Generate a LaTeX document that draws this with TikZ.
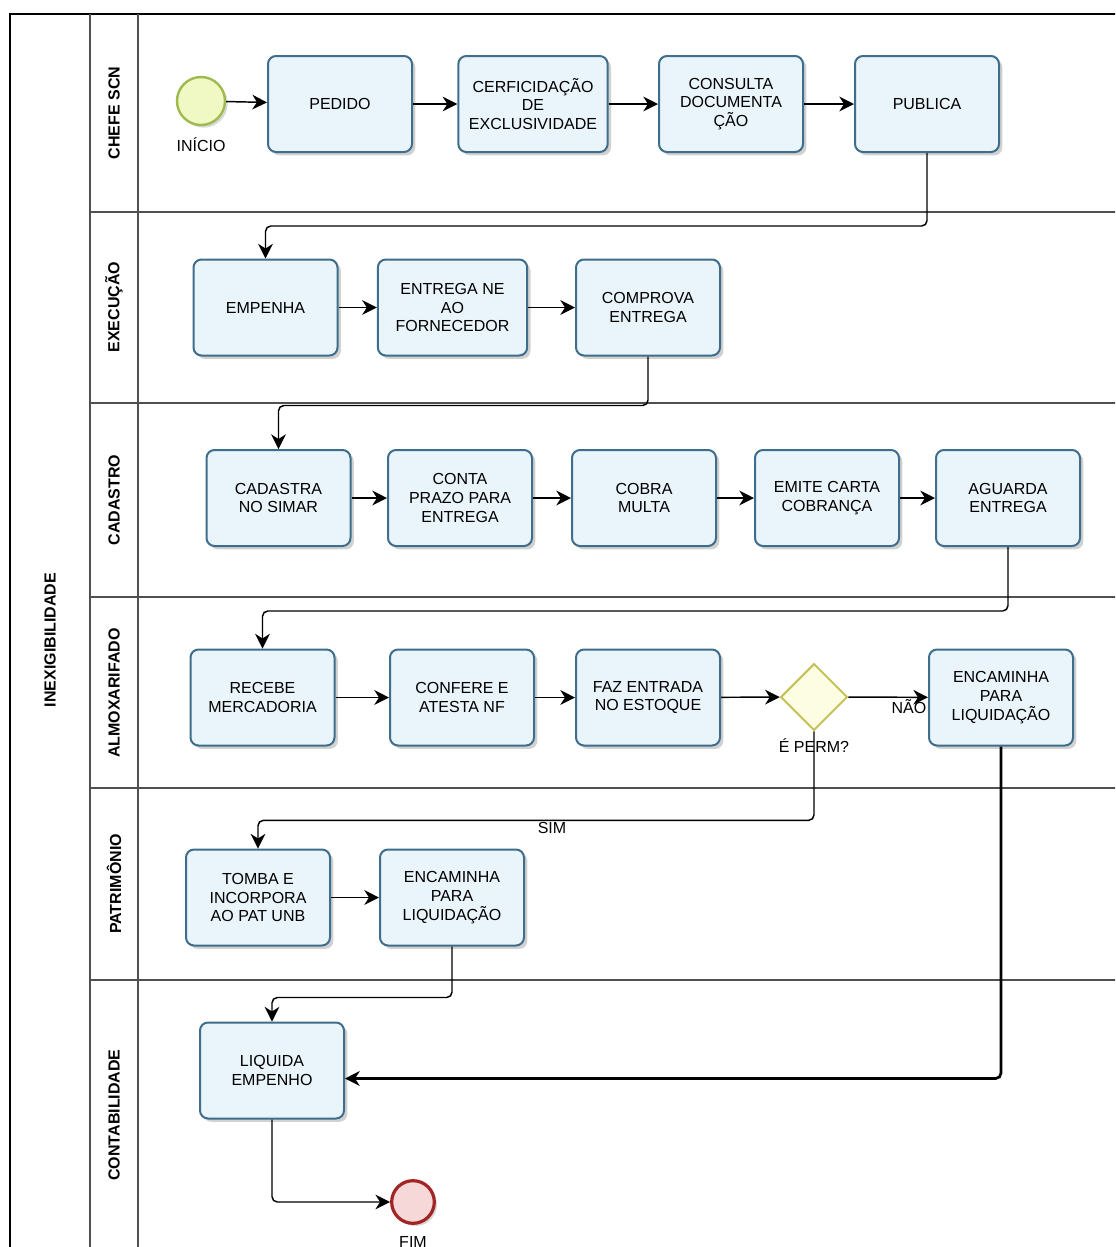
\documentclass[tikz,border=0pt]{standalone}
\usepackage{fontspec}
\setmainfont{Liberation Sans}
\usetikzlibrary{shapes.geometric,arrows.meta,shadows}
\definecolor{boxline}{HTML}{3E6E8C}
\definecolor{boxfill}{HTML}{EAF4FB}
\definecolor{startline}{HTML}{9FBA4E}
\definecolor{startfill}{HTML}{F0F8C4}
\definecolor{endline}{HTML}{A32424}
\definecolor{endfill}{HTML}{F6D8D8}
\definecolor{gateline}{HTML}{C6C25A}
\definecolor{gatefill}{HTML}{FCFDE2}
\definecolor{laneline}{HTML}{505050}
\begin{document}
\begin{tikzpicture}[x=0.75pt,y=-0.75pt,
  taskbox/.style={draw=boxline,line width=1.5pt,fill=boxfill,rounded corners=6pt,
    minimum width=108pt,minimum height=72pt,align=center,inner sep=2pt,
    font=\fontsize{12}{14}\selectfont,
    drop shadow={shadow xshift=2.5pt,shadow yshift=-2.5pt,opacity=0.18,fill=black}},
  widebox/.style={taskbox,minimum width=112pt},
  startev/.style={circle,draw=startline,line width=1.8pt,fill=startfill,minimum size=36pt,inner sep=0pt,
    drop shadow={shadow xshift=2pt,shadow yshift=-2pt,opacity=0.15,fill=black}},
  endev/.style={circle,draw=endline,line width=2.4pt,fill=endfill,minimum size=32pt,inner sep=0pt,
    drop shadow={shadow xshift=2pt,shadow yshift=-2pt,opacity=0.15,fill=black}},
  gatebox/.style={diamond,draw=gateline,line width=1.5pt,fill=gatefill,minimum size=50pt,inner sep=0pt,aspect=1},
  flowline/.style={draw=black,line width=1.1pt,rounded corners=4pt,-{Stealth[length=11pt,width=11pt,inset=3.5pt]}},
  thickflow/.style={flowline,line width=2pt},
  lanelab/.style={rotate=90,font=\fontsize{12}{14}\selectfont\bfseries},
  smalllab/.style={font=\fontsize{12}{14}\selectfont,inner sep=1pt}]
\useasboundingbox (0,0) rectangle (1115,1247);
\clip (0,0) rectangle (1115,1247);
\fill[white] (0,0) rectangle (1115,1247);

% pool and lanes
\draw[black,line width=1pt] (10,1270) -- (10,14) -- (1130,14);
\draw[laneline,line width=1pt] (90,14) -- (90,1270);
\draw[laneline,line width=1pt] (138,14) -- (138,1270);
\foreach \yy in {212,403,597,788,980}{
  \draw[laneline,line width=1pt] (90,\yy) -- (1130,\yy);
}
\node[lanelab] (pool) at (50,640) {INEXIGIBILIDADE};
\node[lanelab] (l1) at (114,113) {CHEFE SCN};
\node[lanelab] (l2) at (114,307) {EXECUÇÃO};
\node[lanelab] (l3) at (114,500) {CADASTRO};
\node[lanelab] (l4) at (114,693) {ALMOXARIFADO};
\node[lanelab] (l5) at (114,884) {PATRIMÔNIO};
\node[lanelab] (l6) at (114,1115) {CONTABILIDADE};

% lane 1
\node[startev] (inicio) at (201,101) {};
\node[smalllab] (inicioL) at (201,145) {INÍCIO};
\node[taskbox] (pedido) at (340,104) {PEDIDO};
\node[widebox] (cert) at (533,104) {CERFICIDAÇÃO\\DE\\EXCLUSIVIDADE};
\node[taskbox] (consulta) at (731,104) {CONSULTA\\DOCUMENTA\\ÇÃO};
\node[taskbox] (publica) at (927,104) {PUBLICA};

% lane 2
\node[taskbox] (empenha) at (265.5,307.5) {EMPENHA};
\node[widebox] (entrega) at (452.5,307.5) {ENTREGA NE\\AO\\FORNECEDOR};
\node[taskbox] (comprova) at (648,307.5) {COMPROVA\\ENTREGA};

% lane 3
\node[taskbox] (cadastra) at (278.5,498) {CADASTRA\\NO SIMAR};
\node[taskbox] (conta) at (460,498) {CONTA\\PRAZO PARA\\ENTREGA};
\node[taskbox] (cobra) at (644,498) {COBRA\\MULTA};
\node[taskbox] (emite) at (827,498) {EMITE CARTA\\COBRANÇA};
\node[taskbox] (aguarda) at (1008,498) {AGUARDA\\ENTREGA};

% lane 4
\node[taskbox] (recebe) at (262.5,697.5) {RECEBE\\MERCADORIA};
\node[taskbox] (confere) at (462,697.5) {CONFERE E\\ATESTA NF};
\node[taskbox] (faz) at (648,697.5) {FAZ ENTRADA\\NO ESTOQUE};
\node[gatebox] (gate) at (814,697) {};
\node[smalllab] (gateL) at (814,746) {É PERM?};
\node[taskbox] (encam1) at (1001,697.5) {ENCAMINHA\\PARA\\LIQUIDAÇÃO};

% lane 5
\node[taskbox] (tomba) at (258,897.5) {TOMBA E\\INCORPORA\\AO PAT UNB};
\node[taskbox] (encam2) at (452,897.5) {ENCAMINHA\\PARA\\LIQUIDAÇÃO};

% lane 6
\node[taskbox] (liquida) at (272,1070.5) {LIQUIDA\\EMPENHO};
\node[endev] (fim) at (413,1202) {};
\node[smalllab] (fimL) at (413,1242) {FIM};

% flow labels
\node[smalllab] (nao) at (909,707) {NÃO};
\node[smalllab] (sim) at (552,828) {SIM};

% flows
\draw[flowline] (inicio) -- (pedido);
\draw[flowline] (pedido) -- (cert);
\draw[flowline] (cert) -- (consulta);
\draw[flowline] (consulta) -- (publica);
\draw[flowline] (publica.south) -- ++(0,73) -| (empenha.north);
\draw[flowline] (empenha) -- (entrega);
\draw[flowline] (entrega) -- (comprova);
\draw[flowline] (comprova.south) -- ++(0,49) -| (cadastra.north);
\draw[flowline] (cadastra) -- (conta);
\draw[flowline] (conta) -- (cobra);
\draw[flowline] (cobra) -- (emite);
\draw[flowline] (emite) -- (aguarda);
\draw[flowline] (aguarda.south) -- ++(0,64) -| (recebe.north);
\draw[flowline] (recebe) -- (confere);
\draw[flowline] (confere) -- (faz);
\draw[flowline] (faz) -- (gate);
\draw[flowline] (gate) -- (encam1);
\draw[flowline] (gate.south) -- ++(0,89) -| (tomba.north);
\draw[flowline] (tomba) -- (encam2);
\draw[flowline] (encam2.south) -- ++(0,51) -| (liquida.north);
\draw[thickflow] (encam1.south) |- ([yshift=-6pt]liquida.east);
\draw[flowline] (liquida.south) |- (fim.west);
\end{tikzpicture}
\end{document}
